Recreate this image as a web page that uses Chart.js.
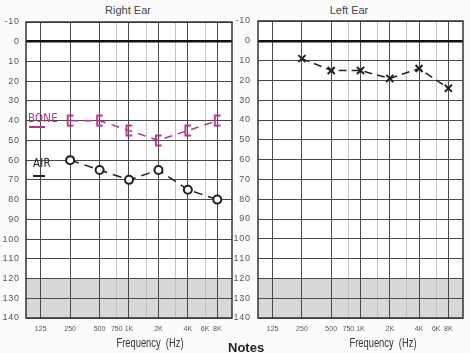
<!DOCTYPE html>
<html>
<head>
<meta charset="utf-8">
<script src="https://cdn.jsdelivr.net/npm/chart.js@4.4.0/dist/chart.umd.min.js"></script>
<style>
  html, body { margin: 0; padding: 0; background: #fcfcfc; }
  body { width: 470px; height: 353px; position: relative; overflow: hidden; font-family: "Liberation Sans", Arial, sans-serif; }
  canvas { position: absolute; top: 0; }
  #rightChart { left: 0; }
  #leftChart { left: 232px; }
  .ear-title { position: absolute; top: 4px; font-size: 11px; color: #444; transform: translateX(-50%); white-space: nowrap; }
  .freq-title { position: absolute; top: 335px; font-size: 13px; color: #333; white-space: nowrap; transform: translateX(-50%) scaleX(0.72); }
  .notes { position: absolute; left: 228px; top: 340px; font-size: 13px; font-weight: bold; color: #222; }
  .hand { position: absolute; font-family: "DejaVu Sans", sans-serif; font-size: 12px; letter-spacing: 0.3px; transform: scaleX(0.85); transform-origin: left top; }
  .uline { position: absolute; height: 1.5px; }
</style>
</head>
<body>
<div class="ear-title" style="left:128px">Right Ear</div>
<div class="ear-title" style="left:349px">Left Ear</div>
<canvas id="rightChart" width="240" height="353"></canvas>
<canvas id="leftChart" width="238" height="353"></canvas>
<div class="freq-title" style="left:150px">Frequency&nbsp;&nbsp;(Hz)</div>
<div class="freq-title" style="left:383px">Frequency&nbsp;&nbsp;(Hz)</div>
<div class="notes">Notes</div>
<div class="hand" style="left:28px;top:111px;color:#b5338a">BONE</div>
<div class="uline" style="left:29px;top:126px;width:16px;background:#b5338a"></div>
<div class="hand" style="left:33px;top:156px;color:#222">AIR</div>
<div class="uline" style="left:33px;top:175px;width:12px;background:#222"></div>
<script>
// ---------------------------------------------------------------------------
// Data
// ---------------------------------------------------------------------------
const FREQS = [125, 250, 500, 750, 1000, 1500, 2000, 3000, 4000, 6000, 8000];
const FREQ_LABELS = ["125", "250", "500", "750", "1K", "", "2K", "", "4K", "6K", "8K"];
const OCTAVES = [125, 250, 500, 1000, 2000, 4000, 8000]; // dark grid lines
const TEST_FREQS = [250, 500, 1000, 2000, 4000, 8000];

const RIGHT_AIR = [60, 65, 70, 65, 75, 80];
const RIGHT_BONE = [40, 40, 45, 50, 45, 40];
const LEFT_AIR = [9, 15, 15, 19, 14, 24];

const DB_MIN = -10, DB_MAX = 140, MASK_FROM = 120;

const INK = "#222";
const PEN = "#b5338a";

// ---------------------------------------------------------------------------
// Helpers
// ---------------------------------------------------------------------------
function pts(values) {
  return TEST_FREQS.map((f, i) => ({ x: f, y: values[i] }));
}

// "[" bone marker
function bracketMarker(color) {
  const c = document.createElement("canvas");
  c.width = 9; c.height = 13;
  const g = c.getContext("2d");
  g.strokeStyle = color;
  g.lineWidth = 1.8;
  g.lineCap = "round";
  g.beginPath();
  g.moveTo(7, 1.5); g.lineTo(2, 1.5); g.lineTo(2, 11.5); g.lineTo(7, 11.5);
  g.stroke();
  return c;
}

// gray band + white plot + frame
const panelFrame = {
  id: "panelFrame",
  beforeDraw(chart) {
    const { ctx, chartArea: a, scales: { y } } = chart;
    ctx.save();
    ctx.fillStyle = "#fff";
    ctx.fillRect(a.left, a.top, a.width, a.height);
    const y0 = y.getPixelForValue(MASK_FROM), y1 = y.getPixelForValue(DB_MAX);
    ctx.fillStyle = "#d8d8d8";
    ctx.fillRect(a.left, y0, a.width, y1 - y0);
    ctx.restore();
  },
  beforeDatasetsDraw(chart) {
    const { ctx, chartArea: a } = chart;
    ctx.save();
    ctx.strokeStyle = "#333";
    ctx.lineWidth = 1.5;
    ctx.strokeRect(a.left, a.top, a.width, a.height);
    ctx.restore();
  }
};

function panelOptions(padTop, padRight, tickPad) {
  return {
    responsive: false,
    animation: false,
    layout: { padding: { top: padTop, right: padRight, left: 0, bottom: 0 } },
    plugins: { legend: { display: false }, tooltip: { enabled: false } },
    scales: {
      x: {
        type: "logarithmic",
        min: 125 / Math.SQRT2,
        max: 8000 * Math.SQRT2,
        afterBuildTicks: s => { s.ticks = FREQS.map(v => ({ value: v })); },
        afterFit: s => { s.height = 35; },
        ticks: {
          autoSkip: false, maxRotation: 0, padding: 7, color: "#555",
          font: { family: "'Liberation Sans Narrow', 'Liberation Sans'", size: 7 },
          callback: v => FREQ_LABELS[FREQS.indexOf(v)]
        },
        grid: {
          color: c => OCTAVES.includes(c.tick && c.tick.value) ? "#4a4a4a" : "#c2c2c2",
          lineWidth: 1, drawTicks: false
        },
        border: { display: false }
      },
      y: {
        type: "linear",
        reverse: true,
        min: DB_MIN, max: DB_MAX,
        afterFit: s => { s.width = 26; },
        ticks: {
          stepSize: 10, padding: tickPad, color: "#555",
          font: { family: "'Liberation Sans'", size: 9 },
          callback: v => String(v).split("").join("\u200a")
        },
        grid: {
          color: c => c.tick && c.tick.value === 0 ? "#111" : "#4a4a4a",
          lineWidth: c => c.tick && c.tick.value === 0 ? 2.5 : 1,
          drawTicks: false
        },
        border: { display: false }
      }
    }
  };
}

// ---------------------------------------------------------------------------
// Right ear
// ---------------------------------------------------------------------------
new Chart(document.getElementById("rightChart"), {
  type: "scatter",
  data: {
    datasets: [
      {
        label: "Bone",
        data: pts(RIGHT_BONE),
        showLine: true,
        borderColor: PEN,
        borderWidth: 1.5,
        borderDash: [8, 6],
        pointStyle: bracketMarker(PEN),
      },
      {
        label: "Air",
        data: pts(RIGHT_AIR),
        showLine: true,
        borderColor: INK,
        borderWidth: 1.5,
        borderDash: [9, 6],
        pointStyle: "circle",
        pointRadius: 4,
        pointBorderWidth: 2,
        pointBorderColor: INK,
        pointBackgroundColor: "#fff",
      }
    ]
  },
  options: panelOptions(22, 8, 7),
  plugins: [panelFrame]
});

// ---------------------------------------------------------------------------
// Left ear
// ---------------------------------------------------------------------------
new Chart(document.getElementById("leftChart"), {
  type: "scatter",
  data: {
    datasets: [
      {
        label: "Air",
        data: pts(LEFT_AIR),
        showLine: true,
        borderColor: INK,
        borderWidth: 1.5,
        borderDash: [8, 5],
        pointStyle: "crossRot",
        pointRadius: 5,
        pointBorderWidth: 2,
        pointBorderColor: INK,
      }
    ]
  },
  options: panelOptions(21, 7, 8),
  plugins: [panelFrame]
});
</script>
</body>
</html>
